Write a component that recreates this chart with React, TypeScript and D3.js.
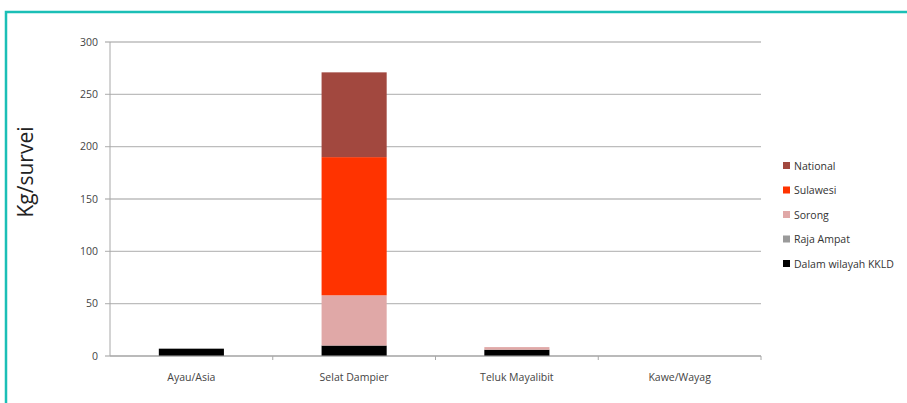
import React from "react";
import * as d3 from "d3";

const categories = ["Ayau/Asia", "Selat Dampier", "Teluk Mayalibit", "Kawe/Wayag"];
const seriesNames = ["Dalam wilayah KKLD", "Raja Ampat", "Sorong", "Sulawesi", "National"];
const dalam = [7, 10, 6, 0];
const rajaAmpat = [0, 0, 0, 0];
const sorong = [0, 48, 2.5, 0];
const sulawesi = [0, 132, 0, 0];
const national = [0, 81, 0, 0];
const yTicks = [0, 50, 100, 150, 200, 250, 300];
const colors = ["#000000", "#9a9a9a", "#e0a8a7", "#ff3300", "#a2483f"];

const W = 907;
const H = 403;
const margin = { left: 110, right: 146, top: 42, bottom: 47 };

export default function App() {
  const x = d3
    .scaleBand<string>()
    .domain(categories)
    .range([margin.left, W - margin.right])
    .paddingInner(0.6)
    .paddingOuter(0.3);
  const y = d3.scaleLinear().domain([0, 300]).range([H - margin.bottom, margin.top]);

  const rows = categories.map((c, i) => ({
    cat: c,
    s0: dalam[i],
    s1: rajaAmpat[i],
    s2: sorong[i],
    s3: sulawesi[i],
    s4: national[i],
  }));
  const keys = ["s0", "s1", "s2", "s3", "s4"];
  const stacked = d3.stack<any>().keys(keys)(rows);

  const x0 = margin.left;
  const x1 = W - margin.right;
  const step = x.step();
  const font = "'Open Sans', 'DejaVu Sans', sans-serif";

  const legendOrder = [4, 3, 2, 1, 0];

  return (
    <svg
      width={W}
      height={H}
      style={{ position: "absolute", left: 0, top: 0, background: "#fff" }}
      fontFamily={font}
    >
      {/* teal frame */}
      <path d={`M6,${H + 5} L6,12 L${W + 5},12`} fill="none" stroke="#1bbfb6" strokeWidth={2.5} />

      {/* gridlines */}
      {yTicks.map((t) => (
        <g key={t}>
          <line x1={x0 - 5} x2={x1} y1={y(t)} y2={y(t)} stroke="#bdbdbd" strokeWidth={1.3} />
          <text x={x0 - 12} y={y(t)} dy="0.35em" textAnchor="end" fontSize={10.5} fill="#444">
            {t}
          </text>
        </g>
      ))}
      {/* y axis */}
      <line x1={x0} x2={x0} y1={y(300)} y2={y(0)} stroke="#a8a8a8" strokeWidth={1} />

      {/* bars */}
      {stacked.map((layer, li) => (
        <g key={li} fill={colors[li]}>
          {layer.map((d, i) => {
            const h = y(d[0]) - y(d[1]);
            if (h <= 0) return null;
            return (
              <rect
                key={i}
                x={x(categories[i])}
                width={x.bandwidth()}
                y={y(d[1])}
                height={h}
              />
            );
          })}
        </g>
      ))}

      {/* x axis */}
      <line x1={x0} x2={x1} y1={y(0)} y2={y(0)} stroke="#a8a8a8" strokeWidth={1.2} />
      {categories.map((c, i) => (
        <g key={c}>
          <line
            x1={x0 + step * (i + 1)}
            x2={x0 + step * (i + 1)}
            y1={y(0)}
            y2={y(0) + 4}
            stroke="#a8a8a8"
          />
          <text
            x={(x(c) as number) + x.bandwidth() / 2}
            y={y(0) + 25}
            textAnchor="middle"
            fontSize={10.5}
            fill="#444"
          >
            {c}
          </text>
        </g>
      ))}

      {/* y label */}
      <text
        transform={`translate(33,172) rotate(-90)`}
        textAnchor="middle"
        fontSize={21}
        fill="#222"
      >
        Kg/survei
      </text>

      {/* legend */}
      {legendOrder.map((si, k) => (
        <g key={si} transform={`translate(783,${166 + k * 24.5})`}>
          <rect x={0} y={-4} width={7} height={7} fill={colors[si]} />
          <text x={11} y={0} dy="0.35em" fontSize={10.5} fill="#333">
            {seriesNames[si]}
          </text>
        </g>
      ))}
    </svg>
  );
}
